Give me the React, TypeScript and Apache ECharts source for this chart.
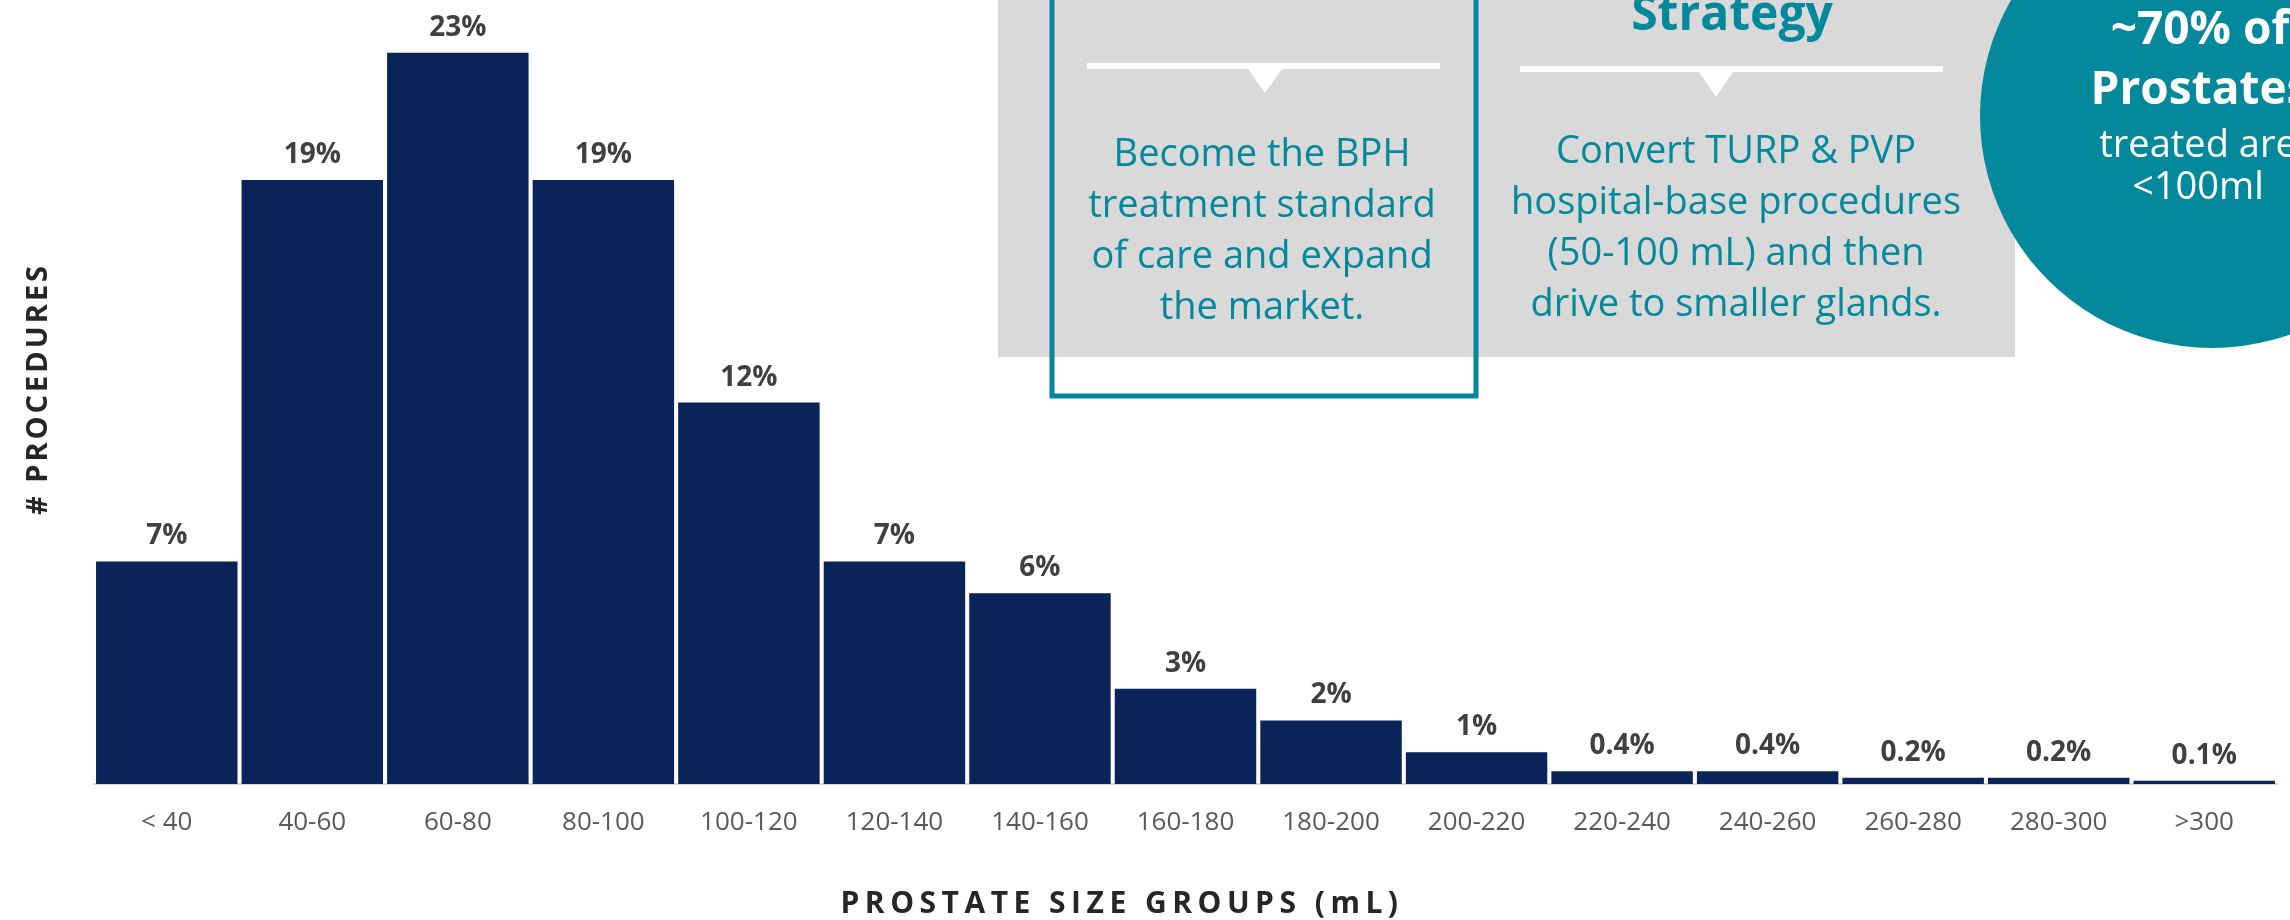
import React, { useEffect, useRef } from "react";
import * as echarts from "echarts";

const categories = ["< 40", "40-60", "60-80", "80-100", "100-120", "120-140", "140-160", "160-180", "180-200", "200-220", "220-240", "240-260", "260-280", "280-300", ">300"];
const shares = [7, 19, 23, 19, 12, 7, 6, 3, 2, 1, 0.4, 0.4, 0.2, 0.2, 0.1];

const yTitle = "# PROCEDURES";
const xTitle = "PROSTATE SIZE GROUPS (mL)";
const box1Lines = ["Become the BPH", "treatment standard", "of care and expand", "the market."];
const box2Lines = ["Convert TURP & PVP", "hospital-base procedures", "(50-100 mL) and then", "drive to smaller glands."];
const box2Title = "Strategy";
const circleLines = ["~70% of", "Prostates", "treated are", "<100ml"];

const TEAL = "#04889B";
const FONT = "'Open Sans', 'Noto Sans', sans-serif";

function txt(x: number, y: number, text: string, size: number, weight: string, fill: string, extra: any = {}) {
  return {
    type: "text",
    x,
    y,
    z: 10,
    ...extra,
    style: {
      text,
      fill,
      fontSize: size,
      fontWeight: weight,
      fontFamily: FONT,
      align: "center",
      textAlign: "center",
      verticalAlign: extra.va || "middle",
      textVerticalAlign: extra.va || "middle",
      lineHeight: extra.lh,
    },
  };
}

export default function App() {
  const ref = useRef<HTMLDivElement>(null);
  useEffect(() => {
    document.body.style.margin = "0";
    const el = ref.current!;
    const chart = echarts.init(el, null, { renderer: "svg" });
    const option: any = {
      animation: false,
      grid: { left: 94, right: 13, top: 21, bottom: 136, containLabel: false },
      xAxis: {
        type: "category",
        data: categories,
        axisTick: { show: false },
        axisLine: { lineStyle: { color: "#D9D9D9", width: 2 } },
        axisLabel: { interval: 0, fontSize: 26, color: "#595959", margin: 23, fontFamily: FONT },
      },
      yAxis: { type: "value", min: 0, max: 24, show: false, splitLine: { show: false } },
      series: [
        {
          type: "bar",
          data: shares,
          barCategoryGap: "2.8%",
          itemStyle: { color: "#0A2358" },
          label: {
            show: true,
            position: "top",
            distance: 14,
            formatter: (p: any) => p.value + "%",
            fontSize: 28,
            fontWeight: "bold",
            color: "#404040",
            fontFamily: FONT,
          },
        },
      ],
      graphic: [
        { type: "rect", z: 5, shape: { x: 998, y: 0, width: 1017, height: 357 }, style: { fill: "#D9D9D9" } },
        { type: "rect", z: 6, shape: { x: 1052, y: -10, width: 424, height: 406 }, style: { fill: "none", stroke: TEAL, lineWidth: 5 } },
        { type: "rect", z: 6, shape: { x: 1087, y: 63, width: 353, height: 6 }, style: { fill: "#FFFFFF" } },
        { type: "polygon", z: 6, shape: { points: [[1246, 66], [1284, 66], [1265, 93]] }, style: { fill: "#FFFFFF" } },
        { type: "rect", z: 6, shape: { x: 1520, y: 66, width: 423, height: 6 }, style: { fill: "#FFFFFF" } },
        { type: "polygon", z: 6, shape: { points: [[1697, 69], [1735, 69], [1716, 97]] }, style: { fill: "#FFFFFF" } },
        txt(1262, 125, box1Lines.join("\n"), 38, "normal", TEAL, { va: "top", lh: 51 }),
        txt(1736, 122, box2Lines.join("\n"), 38, "normal", TEAL, { va: "top", lh: 51 }),
        txt(1732, 11, box2Title, 48, "bold", TEAL),
        { type: "circle", z: 7, shape: { cx: 2212, cy: 116, r: 232 }, style: { fill: TEAL } },
        txt(2200, 26, circleLines[0], 46, "bold", "#FFFFFF"),
        txt(2200, 86, circleLines[1], 46, "bold", "#FFFFFF"),
        txt(2198, 142, circleLines[2], 38, "normal", "#FFFFFF"),
        txt(2198, 184, circleLines[3], 38, "normal", "#FFFFFF"),
        txt(35, 389, yTitle, 29, "bold", "#262626", { rotation: Math.PI / 2 }),
        txt(1122, 901, xTitle, 30, "bold", "#262626"),
      ],
    };
    const spacing = () => {
      el.querySelectorAll("text").forEach((t) => {
        const s = t.textContent;
        if (s === yTitle) t.setAttribute("letter-spacing", "3");
        if (s === xTitle) t.setAttribute("letter-spacing", "5.5");
      });
    };
    chart.on("rendered", spacing);
    chart.setOption(option);
    spacing();
    const id = setTimeout(spacing, 50);
    return () => {
      clearTimeout(id);
      chart.dispose();
    };
  }, []);
  return <div ref={ref} style={{ position: "fixed", left: 0, top: 0, width: 2290, height: 920 }} />;
}
